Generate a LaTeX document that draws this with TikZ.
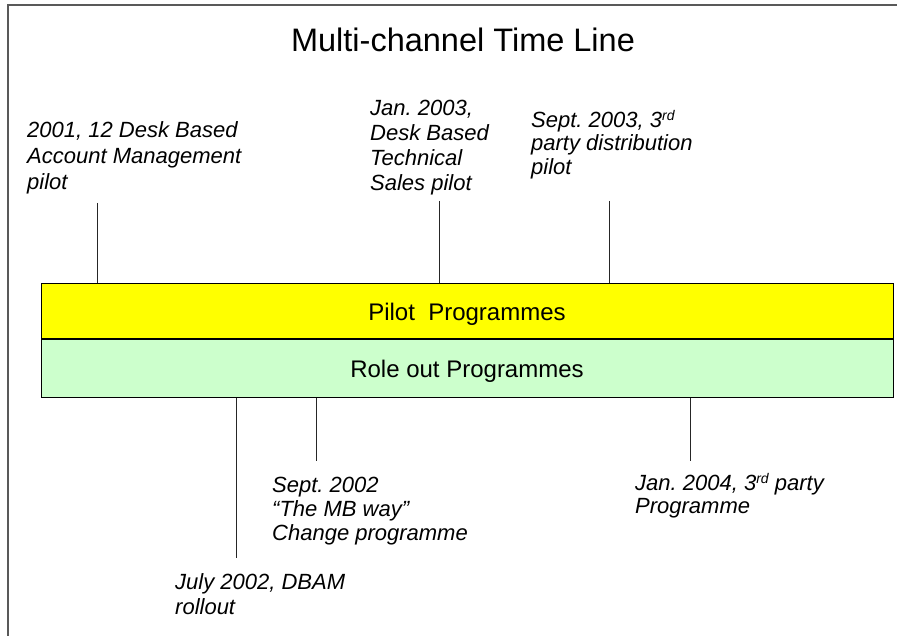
\documentclass[tikz,border=0pt]{standalone}
\usepackage{fontspec}
\setmainfont{Liberation Sans}
\frenchspacing
\definecolor{pilotyellow}{RGB}{255,255,0}
\definecolor{rolegreen}{RGB}{204,255,204}
\newcommand{\supr}[1]{\smash{\raisebox{7pt}{\fontsize{14}{14}\selectfont #1}}}
\begin{document}
\begin{tikzpicture}[x=1pt,y=-1pt,
  frameline/.style={draw=black!65,line width=1.2pt},
  tick/.style={draw=black!85,line width=0.9pt},
  band/.style={draw=black,line width=1pt,minimum width=852pt,inner sep=0pt,
     font=\fontsize{24}{28}\selectfont,text height=17.2pt,text depth=0pt},
  lbl/.style={font=\fontsize{22}{#1}\selectfont\itshape,align=left,anchor=north west,inner sep=0pt},
  lbl/.default=25]
\useasboundingbox (0,0) rectangle (897,636);
\fill[white] (0,0) rectangle (897,636);
\draw[frameline] (8,636) -- (8,5) -- (897,5);
% title
\node[font=\fontsize{32.5}{36}\selectfont,anchor=base,inner sep=0pt] (title) at (463,52) {Multi-channel Time Line};
% bands
\node[band,fill=pilotyellow,minimum height=55pt] (pilot) at (467,311.5) {Pilot\ \ Programmes};
\node[band,fill=rolegreen,minimum height=57pt,anchor=north] (role) at (pilot.south) {Role out Programmes};
% labels above
\node[lbl=26] (l2001) at (27,121.5) {2001, 12 Desk Based\\Account Management\\pilot};
\node[lbl=25] (ljan03) at (370,99.5) {Jan. 2003,\\Desk Based\\Technical\\Sales pilot};
\node[lbl=23.5] (lsep03) at (531,111.5) {Sept. 2003, 3\supr{rd}\\party distribution\\pilot};
% labels below
\node[lbl=24] (lsep02) at (272,476.5) {Sept. 2002\\“The MB way”\\Change programme};
\node[lbl=25] (ljul02) at (175,573.5) {July 2002, DBAM\\rollout};
\node[lbl=23] (ljan04) at (635,474.5) {Jan. 2004, 3\supr{rd} party\\Programme};
% ticks
\coordinate (t1) at (97,203);
\coordinate (t2) at (439,201);
\coordinate (t3) at (609,201);
\coordinate (b1) at (236,558);
\coordinate (b2) at (316,461);
\coordinate (b3) at (690,461);
\draw[tick] (t1) -- (t1 |- pilot.north);
\draw[tick] (t2) -- (t2 |- pilot.north);
\draw[tick] (t3) -- (t3 |- pilot.north);
\draw[tick] (b1 |- role.south) -- (b1);
\draw[tick] (b2 |- role.south) -- (b2);
\draw[tick] (b3 |- role.south) -- (b3);
\end{tikzpicture}
\end{document}
